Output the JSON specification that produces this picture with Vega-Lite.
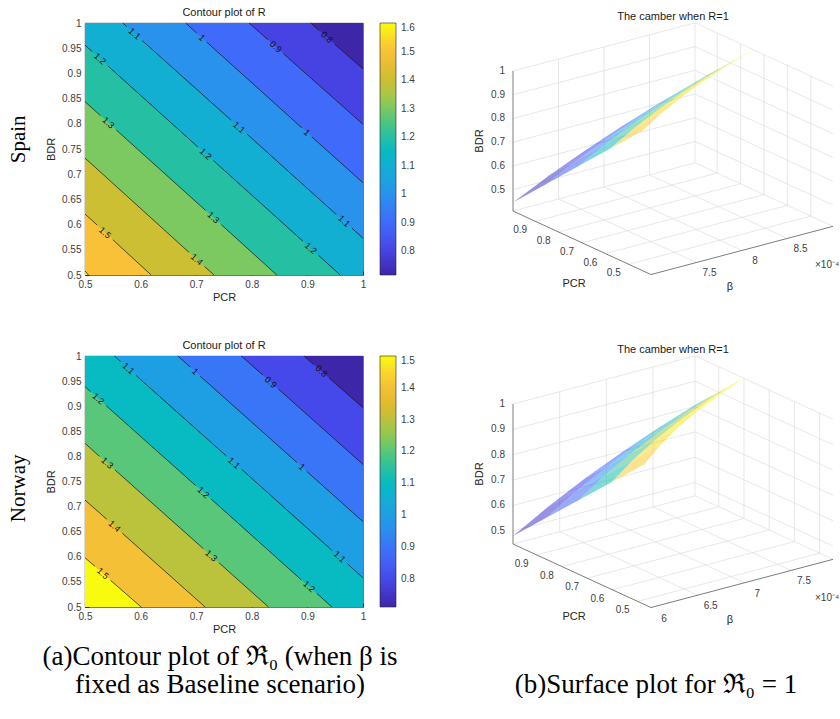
{
  "$schema": "https://vega.github.io/schema/vega-lite/v6.json",
  "padding": {"left": 8, "top": 6, "right": 0, "bottom": 0},
  "background": "white",
  "config": {
    "font": "Liberation Sans",
    "view": {"stroke": null},
    "title": {"fontSize": 11, "fontWeight": "normal", "color": "#1a1a1a"},
    "axis": {"labelFontSize": 10, "labelColor": "#404040", "titleFontSize": 11, "titleFontWeight": "normal", "titleColor": "#262626", "grid": false, "domain": false, "tickColor": "#262626", "tickSize": -4, "labelPadding": 8, "labelFlush": false, "labelOverlap": false},
    "legend": {"labelFontSize": 10, "labelColor": "#404040"}
  },
  "resolve": {"scale": {"color": "independent"}, "legend": {"color": "independent"}},
  "spacing": 5,
  "vconcat": [
    {
      "spacing": 35,
      "resolve": {"scale": {"color": "independent"}, "legend": {"color": "independent"}},
      "vconcat": [
        {
          "title": {"text": "Spain", "orient": "left", "anchor": "middle", "font": "Liberation Serif", "fontSize": 21, "color": "#000000", "offset": 16, "dx": 16},
          "spacing": 55,
          "resolve": {"scale": {"color": "independent"}, "legend": {"color": "independent"}},
          "hconcat": [
            {
              "width": 278, "height": 252,
              "title": {"text": "Contour plot of R", "frame": "group", "anchor": "middle", "offset": 0},
              "view": {"stroke": "#262626", "strokeWidth": 0.8},
              "encoding": {
                "x": {"field": "PCR", "type": "quantitative", "title": "PCR", "scale": {"domain": [0.5, 1], "nice": false, "zero": false}, "axis": {"values": [0.5, 0.6, 0.7, 0.8, 0.9, 1], "format": "~g", "titlePadding": 2}},
                "y": {"field": "BDR", "type": "quantitative", "title": "BDR", "scale": {"domain": [0.5, 1], "nice": false, "zero": false}, "axis": {"values": [0.5, 0.55, 0.6, 0.65, 0.7, 0.75, 0.8, 0.85, 0.9, 0.95, 1], "format": "~g", "titlePadding": 5}}
              },
              "layer": [
                {
                  "data": {"values": [
                    {"g": 0, "R": 1.6, "PCR": 0.5, "BDR": 0.5}, {"g": 0, "R": 1.6, "PCR": 1, "BDR": 0.5},
                    {"g": 1, "R": 1.5, "PCR": 0.5, "BDR": 0.508}, {"g": 1, "R": 1.5, "PCR": 0.506, "BDR": 0.5}, {"g": 1, "R": 1.5, "PCR": 1, "BDR": 0.5},
                    {"g": 2, "R": 1.4, "PCR": 0.5, "BDR": 0.621}, {"g": 2, "R": 1.4, "PCR": 0.619, "BDR": 0.5}, {"g": 2, "R": 1.4, "PCR": 1, "BDR": 0.5},
                    {"g": 3, "R": 1.3, "PCR": 0.5, "BDR": 0.732}, {"g": 3, "R": 1.3, "PCR": 0.732, "BDR": 0.5}, {"g": 3, "R": 1.3, "PCR": 1, "BDR": 0.5},
                    {"g": 4, "R": 1.2, "PCR": 0.5, "BDR": 0.844}, {"g": 4, "R": 1.2, "PCR": 0.845, "BDR": 0.5}, {"g": 4, "R": 1.2, "PCR": 1, "BDR": 0.5},
                    {"g": 5, "R": 1.1, "PCR": 0.5, "BDR": 0.956}, {"g": 5, "R": 1.1, "PCR": 0.959, "BDR": 0.5}, {"g": 5, "R": 1.1, "PCR": 1, "BDR": 0.5},
                    {"g": 6, "R": 1.0, "PCR": 0.568, "BDR": 1}, {"g": 6, "R": 1.0, "PCR": 1, "BDR": 0.573},
                    {"g": 7, "R": 0.9, "PCR": 0.681, "BDR": 1}, {"g": 7, "R": 0.9, "PCR": 1, "BDR": 0.683},
                    {"g": 8, "R": 0.8, "PCR": 0.795, "BDR": 1}, {"g": 8, "R": 0.8, "PCR": 1, "BDR": 0.799},
                    {"g": 9, "R": 0.716, "PCR": 0.906, "BDR": 1}, {"g": 9, "R": 0.716, "PCR": 1, "BDR": 0.909}
                  ]},
                  "mark": {"type": "area", "opacity": 1, "interpolate": "linear"},
                  "encoding": {
                    "y2": {"datum": 1},
                    "detail": {"field": "g", "type": "nominal"},
                    "color": {"field": "R", "type": "quantitative",
                      "scale": {"domain": [0.716, 0.8044, 0.8928, 0.9812, 1.0696, 1.158, 1.2464, 1.3348, 1.4232, 1.5116, 1.6], "range": ["#3e26a8", "#4744e6", "#4268fb", "#2c8cf0", "#18a9dc", "#07bbbf", "#46c684", "#9fc94a", "#dcbb2c", "#fcc23a", "#f9fb0e"], "interpolate": "rgb", "zero": false, "nice": false},
                      "legend": {"type": "gradient", "direction": "vertical", "orient": "right", "offset": 15, "title": null, "gradientLength": 252, "gradientThickness": 16, "values": [0.8, 0.9, 1, 1.1, 1.2, 1.3, 1.4, 1.5, 1.6], "format": "~g", "labelOverlap": false, "labelOffset": 5, "labelBaseline": "middle", "gradientStrokeColor": "#262626", "gradientStrokeWidth": 0.6, "padding": 0}}
                  }
                },
                {
                  "data": {"values": [
                    {"seg": "a1", "PCR": 0.5, "BDR": 0.508}, {"seg": "a1", "PCR": 0.506, "BDR": 0.5},
                    {"seg": "b1", "PCR": 0.5, "BDR": 0.621}, {"seg": "b1", "PCR": 0.522, "BDR": 0.599},
                    {"seg": "b2", "PCR": 0.55, "BDR": 0.57}, {"seg": "b2", "PCR": 0.619, "BDR": 0.5},
                    {"seg": "c1", "PCR": 0.5, "BDR": 0.732}, {"seg": "c1", "PCR": 0.687, "BDR": 0.545},
                    {"seg": "c2", "PCR": 0.715, "BDR": 0.517}, {"seg": "c2", "PCR": 0.732, "BDR": 0.5},
                    {"seg": "d1", "PCR": 0.5, "BDR": 0.844}, {"seg": "d1", "PCR": 0.528, "BDR": 0.816},
                    {"seg": "d2", "PCR": 0.556, "BDR": 0.788}, {"seg": "d2", "PCR": 0.717, "BDR": 0.628},
                    {"seg": "d3", "PCR": 0.745, "BDR": 0.6}, {"seg": "d3", "PCR": 0.845, "BDR": 0.5},
                    {"seg": "e1", "PCR": 0.5, "BDR": 0.956}, {"seg": "e1", "PCR": 0.513, "BDR": 0.943},
                    {"seg": "e2", "PCR": 0.541, "BDR": 0.915}, {"seg": "e2", "PCR": 0.703, "BDR": 0.754},
                    {"seg": "e3", "PCR": 0.731, "BDR": 0.727}, {"seg": "e3", "PCR": 0.892, "BDR": 0.567},
                    {"seg": "e4", "PCR": 0.92, "BDR": 0.539}, {"seg": "e4", "PCR": 0.959, "BDR": 0.5},
                    {"seg": "f1", "PCR": 0.568, "BDR": 1}, {"seg": "f1", "PCR": 0.575, "BDR": 0.993},
                    {"seg": "f2", "PCR": 0.603, "BDR": 0.965}, {"seg": "f2", "PCR": 0.763, "BDR": 0.807},
                    {"seg": "f3", "PCR": 0.791, "BDR": 0.78}, {"seg": "f3", "PCR": 0.952, "BDR": 0.62},
                    {"seg": "f4", "PCR": 0.98, "BDR": 0.593}, {"seg": "f4", "PCR": 1, "BDR": 0.573},
                    {"seg": "h1", "PCR": 0.681, "BDR": 1}, {"seg": "h1", "PCR": 0.701, "BDR": 0.98},
                    {"seg": "h2", "PCR": 0.719, "BDR": 0.962}, {"seg": "h2", "PCR": 0.89, "BDR": 0.792},
                    {"seg": "h3", "PCR": 0.908, "BDR": 0.774}, {"seg": "h3", "PCR": 1, "BDR": 0.683},
                    {"seg": "i1", "PCR": 0.795, "BDR": 1}, {"seg": "i1", "PCR": 0.829, "BDR": 0.967},
                    {"seg": "i2", "PCR": 0.857, "BDR": 0.939}, {"seg": "i2", "PCR": 1, "BDR": 0.799},
                    {"seg": "j1", "PCR": 0.906, "BDR": 1}, {"seg": "j1", "PCR": 0.921, "BDR": 0.985},
                    {"seg": "j2", "PCR": 0.949, "BDR": 0.958}, {"seg": "j2", "PCR": 1, "BDR": 0.909}
                  ]},
                  "mark": {"type": "line", "color": "#111111", "strokeWidth": 0.7},
                  "encoding": {"detail": {"field": "seg", "type": "nominal"}}
                },
                {
                  "data": {"values": [
                    {"lab": "1.5", "PCR": 0.536, "BDR": 0.584}, {"lab": "1.4", "PCR": 0.701, "BDR": 0.531},
                    {"lab": "1.3", "PCR": 0.542, "BDR": 0.802}, {"lab": "1.3", "PCR": 0.731, "BDR": 0.614},
                    {"lab": "1.2", "PCR": 0.527, "BDR": 0.929}, {"lab": "1.2", "PCR": 0.717, "BDR": 0.74}, {"lab": "1.2", "PCR": 0.906, "BDR": 0.553},
                    {"lab": "1.1", "PCR": 0.589, "BDR": 0.979}, {"lab": "1.1", "PCR": 0.777, "BDR": 0.793}, {"lab": "1.1", "PCR": 0.966, "BDR": 0.607},
                    {"lab": "1", "PCR": 0.71, "BDR": 0.971}, {"lab": "1", "PCR": 0.899, "BDR": 0.783},
                    {"lab": "0.9", "PCR": 0.843, "BDR": 0.953}, {"lab": "0.8", "PCR": 0.935, "BDR": 0.972}
                  ]},
                  "mark": {"type": "text", "angle": 42, "fontSize": 9, "color": "#111111", "align": "center", "baseline": "middle"},
                  "encoding": {"text": {"field": "lab", "type": "nominal"}}
                }
              ]
            },
            {
              "width": 364, "height": 281,
              "title": {"text": "The camber when R=1", "frame": "group", "anchor": "middle", "offset": 0, "dx": 20},
              "data": {"values": [
                {"t": "g", "id": "z5", "k": 0, "PCR": 0.995, "beta": 7, "BDR": 0.5}, {"t": "g", "id": "z5", "k": 1, "PCR": 0.995, "beta": 9, "BDR": 0.5}, {"t": "g", "id": "z5", "k": 2, "PCR": 0.405, "beta": 9, "BDR": 0.5},
                {"t": "g", "id": "z6", "k": 0, "PCR": 0.995, "beta": 7, "BDR": 0.6}, {"t": "g", "id": "z6", "k": 1, "PCR": 0.995, "beta": 9, "BDR": 0.6}, {"t": "g", "id": "z6", "k": 2, "PCR": 0.405, "beta": 9, "BDR": 0.6},
                {"t": "g", "id": "z7", "k": 0, "PCR": 0.995, "beta": 7, "BDR": 0.7}, {"t": "g", "id": "z7", "k": 1, "PCR": 0.995, "beta": 9, "BDR": 0.7}, {"t": "g", "id": "z7", "k": 2, "PCR": 0.405, "beta": 9, "BDR": 0.7},
                {"t": "g", "id": "z8", "k": 0, "PCR": 0.995, "beta": 7, "BDR": 0.8}, {"t": "g", "id": "z8", "k": 1, "PCR": 0.995, "beta": 9, "BDR": 0.8}, {"t": "g", "id": "z8", "k": 2, "PCR": 0.405, "beta": 9, "BDR": 0.8},
                {"t": "g", "id": "z9", "k": 0, "PCR": 0.995, "beta": 7, "BDR": 0.9}, {"t": "g", "id": "z9", "k": 1, "PCR": 0.995, "beta": 9, "BDR": 0.9}, {"t": "g", "id": "z9", "k": 2, "PCR": 0.405, "beta": 9, "BDR": 0.9},
                {"t": "g", "id": "z10", "k": 0, "PCR": 0.995, "beta": 7, "BDR": 1}, {"t": "g", "id": "z10", "k": 1, "PCR": 0.995, "beta": 9, "BDR": 1}, {"t": "g", "id": "z10", "k": 2, "PCR": 0.405, "beta": 9, "BDR": 1},
                {"t": "g", "id": "w1", "k": 0, "PCR": 0.995, "beta": 7.5, "BDR": 0.41}, {"t": "g", "id": "w1", "k": 1, "PCR": 0.995, "beta": 7.5, "BDR": 1},
                {"t": "g", "id": "w2", "k": 0, "PCR": 0.995, "beta": 8, "BDR": 0.41}, {"t": "g", "id": "w2", "k": 1, "PCR": 0.995, "beta": 8, "BDR": 1},
                {"t": "g", "id": "w3", "k": 0, "PCR": 0.995, "beta": 8.5, "BDR": 0.41}, {"t": "g", "id": "w3", "k": 1, "PCR": 0.995, "beta": 8.5, "BDR": 1},
                {"t": "g", "id": "w4", "k": 0, "PCR": 0.995, "beta": 9, "BDR": 0.41}, {"t": "g", "id": "w4", "k": 1, "PCR": 0.995, "beta": 9, "BDR": 1},
                {"t": "g", "id": "r1", "k": 0, "PCR": 0.9, "beta": 9, "BDR": 0.41}, {"t": "g", "id": "r1", "k": 1, "PCR": 0.9, "beta": 9, "BDR": 1},
                {"t": "g", "id": "r2", "k": 0, "PCR": 0.8, "beta": 9, "BDR": 0.41}, {"t": "g", "id": "r2", "k": 1, "PCR": 0.8, "beta": 9, "BDR": 1},
                {"t": "g", "id": "r3", "k": 0, "PCR": 0.7, "beta": 9, "BDR": 0.41}, {"t": "g", "id": "r3", "k": 1, "PCR": 0.7, "beta": 9, "BDR": 1},
                {"t": "g", "id": "r4", "k": 0, "PCR": 0.6, "beta": 9, "BDR": 0.41}, {"t": "g", "id": "r4", "k": 1, "PCR": 0.6, "beta": 9, "BDR": 1},
                {"t": "g", "id": "r5", "k": 0, "PCR": 0.5, "beta": 9, "BDR": 0.41}, {"t": "g", "id": "r5", "k": 1, "PCR": 0.5, "beta": 9, "BDR": 1},
                {"t": "g", "id": "f1", "k": 0, "PCR": 0.995, "beta": 7.5, "BDR": 0.41}, {"t": "g", "id": "f1", "k": 1, "PCR": 0.405, "beta": 7.5, "BDR": 0.41},
                {"t": "g", "id": "f2", "k": 0, "PCR": 0.995, "beta": 8, "BDR": 0.41}, {"t": "g", "id": "f2", "k": 1, "PCR": 0.405, "beta": 8, "BDR": 0.41},
                {"t": "g", "id": "f3", "k": 0, "PCR": 0.995, "beta": 8.5, "BDR": 0.41}, {"t": "g", "id": "f3", "k": 1, "PCR": 0.405, "beta": 8.5, "BDR": 0.41},
                {"t": "g", "id": "p1", "k": 0, "PCR": 0.9, "beta": 7, "BDR": 0.41}, {"t": "g", "id": "p1", "k": 1, "PCR": 0.9, "beta": 9, "BDR": 0.41},
                {"t": "g", "id": "p2", "k": 0, "PCR": 0.8, "beta": 7, "BDR": 0.41}, {"t": "g", "id": "p2", "k": 1, "PCR": 0.8, "beta": 9, "BDR": 0.41},
                {"t": "g", "id": "p3", "k": 0, "PCR": 0.7, "beta": 7, "BDR": 0.41}, {"t": "g", "id": "p3", "k": 1, "PCR": 0.7, "beta": 9, "BDR": 0.41},
                {"t": "g", "id": "p4", "k": 0, "PCR": 0.6, "beta": 7, "BDR": 0.41}, {"t": "g", "id": "p4", "k": 1, "PCR": 0.6, "beta": 9, "BDR": 0.41},
                {"t": "g", "id": "p5", "k": 0, "PCR": 0.5, "beta": 7, "BDR": 0.41}, {"t": "g", "id": "p5", "k": 1, "PCR": 0.5, "beta": 9, "BDR": 0.41},
                {"t": "g", "id": "fb", "k": 0, "PCR": 0.995, "beta": 7, "BDR": 0.41}, {"t": "g", "id": "fb", "k": 1, "PCR": 0.995, "beta": 9, "BDR": 0.41}, {"t": "g", "id": "fb", "k": 2, "PCR": 0.405, "beta": 9, "BDR": 0.41},
                {"t": "a", "id": "az", "k": 0, "PCR": 0.995, "beta": 7, "BDR": 0.41}, {"t": "a", "id": "az", "k": 1, "PCR": 0.995, "beta": 7, "BDR": 1},
                {"t": "a", "id": "ap", "k": 0, "PCR": 0.995, "beta": 7, "BDR": 0.41}, {"t": "a", "id": "ap", "k": 1, "PCR": 0.405, "beta": 7, "BDR": 0.41},
                {"t": "a", "id": "ab", "k": 0, "PCR": 0.405, "beta": 7, "BDR": 0.41}, {"t": "a", "id": "ab", "k": 1, "PCR": 0.405, "beta": 9, "BDR": 0.41},
                {"t": "s", "id": "q00", "k": 0, "PCR": 0.441, "beta": 7, "BDR": 1}, {"t": "s", "id": "q00", "k": 1, "PCR": 0.515, "beta": 7.4, "BDR": 1}, {"t": "s", "id": "q00", "k": 2, "PCR": 0.635, "beta": 7.4, "BDR": 0.88}, {"t": "s", "id": "q00", "k": 3, "PCR": 0.579, "beta": 7, "BDR": 0.862},
                {"t": "s", "id": "q01", "k": 0, "PCR": 0.579, "beta": 7, "BDR": 0.862}, {"t": "s", "id": "q01", "k": 1, "PCR": 0.635, "beta": 7.4, "BDR": 0.88}, {"t": "s", "id": "q01", "k": 2, "PCR": 0.755, "beta": 7.4, "BDR": 0.76}, {"t": "s", "id": "q01", "k": 3, "PCR": 0.718, "beta": 7, "BDR": 0.723},
                {"t": "s", "id": "q02", "k": 0, "PCR": 0.718, "beta": 7, "BDR": 0.723}, {"t": "s", "id": "q02", "k": 1, "PCR": 0.755, "beta": 7.4, "BDR": 0.76}, {"t": "s", "id": "q02", "k": 2, "PCR": 0.875, "beta": 7.4, "BDR": 0.64}, {"t": "s", "id": "q02", "k": 3, "PCR": 0.856, "beta": 7, "BDR": 0.585},
                {"t": "s", "id": "q03", "k": 0, "PCR": 0.856, "beta": 7, "BDR": 0.585}, {"t": "s", "id": "q03", "k": 1, "PCR": 0.875, "beta": 7.4, "BDR": 0.64}, {"t": "s", "id": "q03", "k": 2, "PCR": 0.995, "beta": 7.4, "BDR": 0.52}, {"t": "s", "id": "q03", "k": 3, "PCR": 0.995, "beta": 7, "BDR": 0.446},
                {"t": "s", "id": "q10", "k": 0, "PCR": 0.515, "beta": 7.4, "BDR": 1}, {"t": "s", "id": "q10", "k": 1, "PCR": 0.581, "beta": 7.8, "BDR": 1}, {"t": "s", "id": "q10", "k": 2, "PCR": 0.685, "beta": 7.8, "BDR": 0.896}, {"t": "s", "id": "q10", "k": 3, "PCR": 0.635, "beta": 7.4, "BDR": 0.88},
                {"t": "s", "id": "q11", "k": 0, "PCR": 0.635, "beta": 7.4, "BDR": 0.88}, {"t": "s", "id": "q11", "k": 1, "PCR": 0.685, "beta": 7.8, "BDR": 0.896}, {"t": "s", "id": "q11", "k": 2, "PCR": 0.788, "beta": 7.8, "BDR": 0.793}, {"t": "s", "id": "q11", "k": 3, "PCR": 0.755, "beta": 7.4, "BDR": 0.76},
                {"t": "s", "id": "q12", "k": 0, "PCR": 0.755, "beta": 7.4, "BDR": 0.76}, {"t": "s", "id": "q12", "k": 1, "PCR": 0.788, "beta": 7.8, "BDR": 0.793}, {"t": "s", "id": "q12", "k": 2, "PCR": 0.891, "beta": 7.8, "BDR": 0.69}, {"t": "s", "id": "q12", "k": 3, "PCR": 0.875, "beta": 7.4, "BDR": 0.64},
                {"t": "s", "id": "q13", "k": 0, "PCR": 0.875, "beta": 7.4, "BDR": 0.64}, {"t": "s", "id": "q13", "k": 1, "PCR": 0.891, "beta": 7.8, "BDR": 0.69}, {"t": "s", "id": "q13", "k": 2, "PCR": 0.995, "beta": 7.8, "BDR": 0.586}, {"t": "s", "id": "q13", "k": 3, "PCR": 0.995, "beta": 7.4, "BDR": 0.52},
                {"t": "s", "id": "q20", "k": 0, "PCR": 0.581, "beta": 7.8, "BDR": 1}, {"t": "s", "id": "q20", "k": 1, "PCR": 0.641, "beta": 8.2, "BDR": 1}, {"t": "s", "id": "q20", "k": 2, "PCR": 0.73, "beta": 8.2, "BDR": 0.911}, {"t": "s", "id": "q20", "k": 3, "PCR": 0.685, "beta": 7.8, "BDR": 0.896},
                {"t": "s", "id": "q21", "k": 0, "PCR": 0.685, "beta": 7.8, "BDR": 0.896}, {"t": "s", "id": "q21", "k": 1, "PCR": 0.73, "beta": 8.2, "BDR": 0.911}, {"t": "s", "id": "q21", "k": 2, "PCR": 0.818, "beta": 8.2, "BDR": 0.823}, {"t": "s", "id": "q21", "k": 3, "PCR": 0.788, "beta": 7.8, "BDR": 0.793},
                {"t": "s", "id": "q22", "k": 0, "PCR": 0.788, "beta": 7.8, "BDR": 0.793}, {"t": "s", "id": "q22", "k": 1, "PCR": 0.818, "beta": 8.2, "BDR": 0.823}, {"t": "s", "id": "q22", "k": 2, "PCR": 0.907, "beta": 8.2, "BDR": 0.734}, {"t": "s", "id": "q22", "k": 3, "PCR": 0.891, "beta": 7.8, "BDR": 0.69},
                {"t": "s", "id": "q23", "k": 0, "PCR": 0.891, "beta": 7.8, "BDR": 0.69}, {"t": "s", "id": "q23", "k": 1, "PCR": 0.907, "beta": 8.2, "BDR": 0.734}, {"t": "s", "id": "q23", "k": 2, "PCR": 0.995, "beta": 8.2, "BDR": 0.646}, {"t": "s", "id": "q23", "k": 3, "PCR": 0.995, "beta": 7.8, "BDR": 0.586},
                {"t": "s", "id": "q30", "k": 0, "PCR": 0.641, "beta": 8.2, "BDR": 1}, {"t": "s", "id": "q30", "k": 1, "PCR": 0.696, "beta": 8.6, "BDR": 1}, {"t": "s", "id": "q30", "k": 2, "PCR": 0.77, "beta": 8.6, "BDR": 0.926}, {"t": "s", "id": "q30", "k": 3, "PCR": 0.73, "beta": 8.2, "BDR": 0.911},
                {"t": "s", "id": "q31", "k": 0, "PCR": 0.73, "beta": 8.2, "BDR": 0.911}, {"t": "s", "id": "q31", "k": 1, "PCR": 0.77, "beta": 8.6, "BDR": 0.926}, {"t": "s", "id": "q31", "k": 2, "PCR": 0.845, "beta": 8.6, "BDR": 0.851}, {"t": "s", "id": "q31", "k": 3, "PCR": 0.818, "beta": 8.2, "BDR": 0.823},
                {"t": "s", "id": "q32", "k": 0, "PCR": 0.818, "beta": 8.2, "BDR": 0.823}, {"t": "s", "id": "q32", "k": 1, "PCR": 0.845, "beta": 8.6, "BDR": 0.851}, {"t": "s", "id": "q32", "k": 2, "PCR": 0.92, "beta": 8.6, "BDR": 0.776}, {"t": "s", "id": "q32", "k": 3, "PCR": 0.907, "beta": 8.2, "BDR": 0.734},
                {"t": "s", "id": "q33", "k": 0, "PCR": 0.907, "beta": 8.2, "BDR": 0.734}, {"t": "s", "id": "q33", "k": 1, "PCR": 0.92, "beta": 8.6, "BDR": 0.776}, {"t": "s", "id": "q33", "k": 2, "PCR": 0.995, "beta": 8.6, "BDR": 0.701}, {"t": "s", "id": "q33", "k": 3, "PCR": 0.995, "beta": 8.2, "BDR": 0.646},
                {"t": "s", "id": "q40", "k": 0, "PCR": 0.696, "beta": 8.6, "BDR": 1}, {"t": "s", "id": "q40", "k": 1, "PCR": 0.745, "beta": 9, "BDR": 1}, {"t": "s", "id": "q40", "k": 2, "PCR": 0.808, "beta": 9, "BDR": 0.938}, {"t": "s", "id": "q40", "k": 3, "PCR": 0.77, "beta": 8.6, "BDR": 0.926},
                {"t": "s", "id": "q41", "k": 0, "PCR": 0.77, "beta": 8.6, "BDR": 0.926}, {"t": "s", "id": "q41", "k": 1, "PCR": 0.808, "beta": 9, "BDR": 0.938}, {"t": "s", "id": "q41", "k": 2, "PCR": 0.87, "beta": 9, "BDR": 0.875}, {"t": "s", "id": "q41", "k": 3, "PCR": 0.845, "beta": 8.6, "BDR": 0.851},
                {"t": "s", "id": "q42", "k": 0, "PCR": 0.845, "beta": 8.6, "BDR": 0.851}, {"t": "s", "id": "q42", "k": 1, "PCR": 0.87, "beta": 9, "BDR": 0.875}, {"t": "s", "id": "q42", "k": 2, "PCR": 0.933, "beta": 9, "BDR": 0.813}, {"t": "s", "id": "q42", "k": 3, "PCR": 0.92, "beta": 8.6, "BDR": 0.776},
                {"t": "s", "id": "q43", "k": 0, "PCR": 0.92, "beta": 8.6, "BDR": 0.776}, {"t": "s", "id": "q43", "k": 1, "PCR": 0.933, "beta": 9, "BDR": 0.813}, {"t": "s", "id": "q43", "k": 2, "PCR": 0.995, "beta": 9, "BDR": 0.75}, {"t": "s", "id": "q43", "k": 3, "PCR": 0.995, "beta": 8.6, "BDR": 0.701},
                {"t": "lz", "lab": "0.5", "PCR": 0.995, "beta": 7, "BDR": 0.5}, {"t": "lz", "lab": "0.6", "PCR": 0.995, "beta": 7, "BDR": 0.6}, {"t": "lz", "lab": "0.7", "PCR": 0.995, "beta": 7, "BDR": 0.7}, {"t": "lz", "lab": "0.8", "PCR": 0.995, "beta": 7, "BDR": 0.8}, {"t": "lz", "lab": "0.9", "PCR": 0.995, "beta": 7, "BDR": 0.9}, {"t": "lz", "lab": "1", "PCR": 0.995, "beta": 7, "BDR": 1},
                {"t": "lp", "lab": "0.9", "PCR": 0.9, "beta": 7, "BDR": 0.41}, {"t": "lp", "lab": "0.8", "PCR": 0.8, "beta": 7, "BDR": 0.41}, {"t": "lp", "lab": "0.7", "PCR": 0.7, "beta": 7, "BDR": 0.41}, {"t": "lp", "lab": "0.6", "PCR": 0.6, "beta": 7, "BDR": 0.41}, {"t": "lp", "lab": "0.5", "PCR": 0.5, "beta": 7, "BDR": 0.41},
                {"t": "lb", "lab": "7.5", "PCR": 0.405, "beta": 7.5, "BDR": 0.41}, {"t": "lb", "lab": "8", "PCR": 0.405, "beta": 8, "BDR": 0.41}, {"t": "lb", "lab": "8.5", "PCR": 0.405, "beta": 8.5, "BDR": 0.41},
                {"t": "tp", "lab": "PCR", "PCR": 0.7, "beta": 7, "BDR": 0.41},
                {"t": "tb", "lab": "β", "PCR": 0.405, "beta": 8, "BDR": 0.41},
                {"t": "tx", "lab": "×10⁻⁴", "PCR": 0.405, "beta": 9, "BDR": 0.41},
                {"t": "tz", "lab": "BDR", "PCR": 0.995, "beta": 7, "BDR": 0.705}
              ]},
              "transform": [
                {"calculate": "(1-(datum.PCR-0.405)/0.59)*0.9857+(datum.beta-7)/2*1.3", "as": "u"},
                {"calculate": "-(1-(datum.PCR-0.405)/0.59)*0.4536+(datum.beta-7)/2*0.3443+(datum.BDR-0.41)/0.59", "as": "v"},
                {"joinaggregate": [{"op": "mean", "field": "BDR", "as": "zc"}], "groupby": ["id"]}
              ],
              "encoding": {
                "x": {"field": "u", "type": "quantitative", "scale": {"domain": [-0.3, 2.3], "nice": false, "zero": false}, "axis": null},
                "y": {"field": "v", "type": "quantitative", "scale": {"domain": [-0.664, 1.343], "nice": false, "zero": false}, "axis": null}
              },
              "layer": [
                {"transform": [{"filter": "datum.t==='g'"}], "mark": {"type": "line", "color": "#d9d9d9", "strokeWidth": 0.6}, "encoding": {"detail": {"field": "id", "type": "nominal"}, "order": {"field": "k", "type": "quantitative"}}},
                {"transform": [{"filter": "datum.t==='s'"}], "mark": {"type": "line", "filled": true, "fillOpacity": 0.55, "strokeWidth": 0}, "encoding": {"detail": {"field": "id", "type": "nominal"}, "order": {"field": "k", "type": "quantitative"}, "color": {"field": "zc", "type": "quantitative", "scale": {"domain": [0.446, 0.62, 0.68, 0.72, 0.76, 0.8, 0.84, 0.87, 0.9, 0.93, 0.97], "range": ["#3e26a8", "#4744e6", "#4268fb", "#2c8cf0", "#18a9dc", "#07bbbf", "#46c684", "#9fc94a", "#dcbb2c", "#fcc23a", "#f9fb0e"], "interpolate": "rgb", "zero": false, "nice": false}, "legend": null}}},
                {"transform": [{"filter": "datum.t==='a'"}], "mark": {"type": "line", "color": "#5a5a5a", "strokeWidth": 0.8}, "encoding": {"detail": {"field": "id", "type": "nominal"}, "order": {"field": "k", "type": "quantitative"}}},
                {"transform": [{"filter": "datum.t==='lz'"}], "mark": {"type": "text", "align": "right", "baseline": "middle", "dx": -8, "fontSize": 10, "color": "#404040"}, "encoding": {"text": {"field": "lab", "type": "nominal"}}},
                {"transform": [{"filter": "datum.t==='lp'"}], "mark": {"type": "text", "align": "center", "baseline": "middle", "dx": -15, "dy": 9, "fontSize": 10, "color": "#404040"}, "encoding": {"text": {"field": "lab", "type": "nominal"}}},
                {"transform": [{"filter": "datum.t==='lb'"}], "mark": {"type": "text", "align": "center", "baseline": "middle", "dx": 13, "dy": 11, "fontSize": 10, "color": "#404040"}, "encoding": {"text": {"field": "lab", "type": "nominal"}}},
                {"transform": [{"filter": "datum.t==='tp'"}], "mark": {"type": "text", "align": "center", "baseline": "middle", "dx": -8, "dy": 41, "fontSize": 11, "color": "#262626"}, "encoding": {"text": {"field": "lab", "type": "nominal"}}},
                {"transform": [{"filter": "datum.t==='tb'"}], "mark": {"type": "text", "align": "center", "baseline": "middle", "dx": -12, "dy": 37, "fontSize": 11, "color": "#262626"}, "encoding": {"text": {"field": "lab", "type": "nominal"}}},
                {"transform": [{"filter": "datum.t==='tx'"}], "mark": {"type": "text", "align": "left", "baseline": "middle", "dx": -18, "dy": 39, "fontSize": 10, "color": "#404040"}, "encoding": {"text": {"field": "lab", "type": "nominal"}}},
                {"transform": [{"filter": "datum.t==='tz'"}], "mark": {"type": "text", "align": "center", "baseline": "middle", "angle": 270, "dy": -33, "fontSize": 11, "color": "#262626"}, "encoding": {"text": {"field": "lab", "type": "nominal"}}}
              ]
            }
          ]
        },
        {
          "title": {"text": "Norway", "orient": "left", "anchor": "middle", "font": "Liberation Serif", "fontSize": 21, "color": "#000000", "offset": 16},
          "spacing": 55,
          "resolve": {"scale": {"color": "independent"}, "legend": {"color": "independent"}},
          "hconcat": [
            {
              "width": 278, "height": 251,
              "title": {"text": "Contour plot of R", "frame": "group", "anchor": "middle", "offset": 0},
              "view": {"stroke": "#262626", "strokeWidth": 0.8},
              "encoding": {
                "x": {"field": "PCR", "type": "quantitative", "title": "PCR", "scale": {"domain": [0.5, 1], "nice": false, "zero": false}, "axis": {"values": [0.5, 0.6, 0.7, 0.8, 0.9, 1], "format": "~g", "titlePadding": 2}},
                "y": {"field": "BDR", "type": "quantitative", "title": "BDR", "scale": {"domain": [0.5, 1], "nice": false, "zero": false}, "axis": {"values": [0.5, 0.55, 0.6, 0.65, 0.7, 0.75, 0.8, 0.85, 0.9, 0.95, 1], "format": "~g", "titlePadding": 5}}
              },
              "layer": [
                {
                  "data": {"values": [
                    {"g": 0, "R": 1.5, "PCR": 0.5, "BDR": 0.5}, {"g": 0, "R": 1.5, "PCR": 1, "BDR": 0.5},
                    {"g": 1, "R": 1.4, "PCR": 0.5, "BDR": 0.598}, {"g": 1, "R": 1.4, "PCR": 0.601, "BDR": 0.5}, {"g": 1, "R": 1.4, "PCR": 1, "BDR": 0.5},
                    {"g": 2, "R": 1.3, "PCR": 0.5, "BDR": 0.713}, {"g": 2, "R": 1.3, "PCR": 0.716, "BDR": 0.5}, {"g": 2, "R": 1.3, "PCR": 1, "BDR": 0.5},
                    {"g": 3, "R": 1.2, "PCR": 0.5, "BDR": 0.826}, {"g": 3, "R": 1.2, "PCR": 0.83, "BDR": 0.5}, {"g": 3, "R": 1.2, "PCR": 1, "BDR": 0.5},
                    {"g": 4, "R": 1.1, "PCR": 0.5, "BDR": 0.939}, {"g": 4, "R": 1.1, "PCR": 0.944, "BDR": 0.5}, {"g": 4, "R": 1.1, "PCR": 1, "BDR": 0.5},
                    {"g": 5, "R": 1.0, "PCR": 0.553, "BDR": 1}, {"g": 5, "R": 1.0, "PCR": 1, "BDR": 0.558},
                    {"g": 6, "R": 0.9, "PCR": 0.667, "BDR": 1}, {"g": 6, "R": 0.9, "PCR": 1, "BDR": 0.67},
                    {"g": 7, "R": 0.8, "PCR": 0.781, "BDR": 1}, {"g": 7, "R": 0.8, "PCR": 1, "BDR": 0.784},
                    {"g": 8, "R": 0.711, "PCR": 0.894, "BDR": 1}, {"g": 8, "R": 0.711, "PCR": 1, "BDR": 0.897}
                  ]},
                  "mark": {"type": "area", "opacity": 1, "interpolate": "linear"},
                  "encoding": {
                    "y2": {"datum": 1},
                    "detail": {"field": "g", "type": "nominal"},
                    "color": {"field": "R", "type": "quantitative",
                      "scale": {"domain": [0.711, 0.7899, 0.8688, 0.9477, 1.0266, 1.1055, 1.1844, 1.2633, 1.3422, 1.4211, 1.5], "range": ["#3e26a8", "#4744e6", "#4268fb", "#2c8cf0", "#18a9dc", "#07bbbf", "#46c684", "#9fc94a", "#dcbb2c", "#fcc23a", "#f9fb0e"], "interpolate": "rgb", "zero": false, "nice": false},
                      "legend": {"type": "gradient", "direction": "vertical", "orient": "right", "offset": 15, "title": null, "gradientLength": 251, "gradientThickness": 16, "values": [0.8, 0.9, 1, 1.1, 1.2, 1.3, 1.4, 1.5], "format": "~g", "labelOverlap": false, "labelOffset": 5, "labelBaseline": "middle", "gradientStrokeColor": "#262626", "gradientStrokeWidth": 0.6, "padding": 0}}
                  }
                },
                {
                  "data": {"values": [
                    {"seg": "b1", "PCR": 0.5, "BDR": 0.598}, {"seg": "b1", "PCR": 0.518, "BDR": 0.581},
                    {"seg": "b2", "PCR": 0.546, "BDR": 0.553}, {"seg": "b2", "PCR": 0.601, "BDR": 0.5},
                    {"seg": "c1", "PCR": 0.5, "BDR": 0.713}, {"seg": "c1", "PCR": 0.539, "BDR": 0.675},
                    {"seg": "c2", "PCR": 0.567, "BDR": 0.647}, {"seg": "c2", "PCR": 0.716, "BDR": 0.5},
                    {"seg": "d1", "PCR": 0.5, "BDR": 0.826}, {"seg": "d1", "PCR": 0.526, "BDR": 0.8},
                    {"seg": "d2", "PCR": 0.554, "BDR": 0.773}, {"seg": "d2", "PCR": 0.713, "BDR": 0.616},
                    {"seg": "d3", "PCR": 0.741, "BDR": 0.588}, {"seg": "d3", "PCR": 0.83, "BDR": 0.5},
                    {"seg": "e1", "PCR": 0.5, "BDR": 0.939}, {"seg": "e1", "PCR": 0.51, "BDR": 0.929},
                    {"seg": "e2", "PCR": 0.538, "BDR": 0.901}, {"seg": "e2", "PCR": 0.699, "BDR": 0.742},
                    {"seg": "e3", "PCR": 0.727, "BDR": 0.715}, {"seg": "e3", "PCR": 0.889, "BDR": 0.554},
                    {"seg": "e4", "PCR": 0.917, "BDR": 0.527}, {"seg": "e4", "PCR": 0.944, "BDR": 0.5},
                    {"seg": "f1", "PCR": 0.553, "BDR": 1}, {"seg": "f1", "PCR": 0.564, "BDR": 0.989},
                    {"seg": "f2", "PCR": 0.592, "BDR": 0.961}, {"seg": "f2", "PCR": 0.754, "BDR": 0.801},
                    {"seg": "f3", "PCR": 0.782, "BDR": 0.774}, {"seg": "f3", "PCR": 0.944, "BDR": 0.613},
                    {"seg": "f4", "PCR": 0.972, "BDR": 0.586}, {"seg": "f4", "PCR": 1, "BDR": 0.558},
                    {"seg": "h1", "PCR": 0.667, "BDR": 1}, {"seg": "h1", "PCR": 0.689, "BDR": 0.978},
                    {"seg": "h2", "PCR": 0.707, "BDR": 0.96}, {"seg": "h2", "PCR": 0.881, "BDR": 0.788},
                    {"seg": "h3", "PCR": 0.899, "BDR": 0.77}, {"seg": "h3", "PCR": 1, "BDR": 0.67},
                    {"seg": "i1", "PCR": 0.781, "BDR": 1}, {"seg": "i1", "PCR": 0.82, "BDR": 0.962},
                    {"seg": "i2", "PCR": 0.848, "BDR": 0.934}, {"seg": "i2", "PCR": 1, "BDR": 0.784},
                    {"seg": "j1", "PCR": 0.894, "BDR": 1}, {"seg": "j1", "PCR": 0.911, "BDR": 0.983},
                    {"seg": "j2", "PCR": 0.939, "BDR": 0.956}, {"seg": "j2", "PCR": 1, "BDR": 0.897}
                  ]},
                  "mark": {"type": "line", "color": "#111111", "strokeWidth": 0.7},
                  "encoding": {"detail": {"field": "seg", "type": "nominal"}}
                },
                {
                  "data": {"values": [
                    {"lab": "1.5", "PCR": 0.532, "BDR": 0.567}, {"lab": "1.4", "PCR": 0.553, "BDR": 0.661},
                    {"lab": "1.3", "PCR": 0.54, "BDR": 0.787}, {"lab": "1.3", "PCR": 0.727, "BDR": 0.602},
                    {"lab": "1.2", "PCR": 0.524, "BDR": 0.915}, {"lab": "1.2", "PCR": 0.713, "BDR": 0.728}, {"lab": "1.2", "PCR": 0.903, "BDR": 0.541},
                    {"lab": "1.1", "PCR": 0.578, "BDR": 0.975}, {"lab": "1.1", "PCR": 0.768, "BDR": 0.787}, {"lab": "1.1", "PCR": 0.958, "BDR": 0.6},
                    {"lab": "1", "PCR": 0.698, "BDR": 0.969}, {"lab": "1", "PCR": 0.89, "BDR": 0.779},
                    {"lab": "0.9", "PCR": 0.834, "BDR": 0.948}, {"lab": "0.8", "PCR": 0.925, "BDR": 0.97}
                  ]},
                  "mark": {"type": "text", "angle": 42, "fontSize": 9, "color": "#111111", "align": "center", "baseline": "middle"},
                  "encoding": {"text": {"field": "lab", "type": "nominal"}}
                }
              ]
            },
            {
              "width": 364, "height": 281,
              "title": {"text": "The camber when R=1", "frame": "group", "anchor": "middle", "offset": 0, "dx": 20},
              "data": {"values": [
                {"t": "g", "id": "z5", "k": 0, "PCR": 0.994, "beta": 6, "BDR": 0.5}, {"t": "g", "id": "z5", "k": 1, "PCR": 0.994, "beta": 7.95, "BDR": 0.5}, {"t": "g", "id": "z5", "k": 2, "PCR": 0.447, "beta": 7.95, "BDR": 0.5},
                {"t": "g", "id": "z6", "k": 0, "PCR": 0.994, "beta": 6, "BDR": 0.6}, {"t": "g", "id": "z6", "k": 1, "PCR": 0.994, "beta": 7.95, "BDR": 0.6}, {"t": "g", "id": "z6", "k": 2, "PCR": 0.447, "beta": 7.95, "BDR": 0.6},
                {"t": "g", "id": "z7", "k": 0, "PCR": 0.994, "beta": 6, "BDR": 0.7}, {"t": "g", "id": "z7", "k": 1, "PCR": 0.994, "beta": 7.95, "BDR": 0.7}, {"t": "g", "id": "z7", "k": 2, "PCR": 0.447, "beta": 7.95, "BDR": 0.7},
                {"t": "g", "id": "z8", "k": 0, "PCR": 0.994, "beta": 6, "BDR": 0.8}, {"t": "g", "id": "z8", "k": 1, "PCR": 0.994, "beta": 7.95, "BDR": 0.8}, {"t": "g", "id": "z8", "k": 2, "PCR": 0.447, "beta": 7.95, "BDR": 0.8},
                {"t": "g", "id": "z9", "k": 0, "PCR": 0.994, "beta": 6, "BDR": 0.9}, {"t": "g", "id": "z9", "k": 1, "PCR": 0.994, "beta": 7.95, "BDR": 0.9}, {"t": "g", "id": "z9", "k": 2, "PCR": 0.447, "beta": 7.95, "BDR": 0.9},
                {"t": "g", "id": "z10", "k": 0, "PCR": 0.994, "beta": 6, "BDR": 1}, {"t": "g", "id": "z10", "k": 1, "PCR": 0.994, "beta": 7.95, "BDR": 1}, {"t": "g", "id": "z10", "k": 2, "PCR": 0.447, "beta": 7.95, "BDR": 1},
                {"t": "g", "id": "w1", "k": 0, "PCR": 0.994, "beta": 6.5, "BDR": 0.448}, {"t": "g", "id": "w1", "k": 1, "PCR": 0.994, "beta": 6.5, "BDR": 1},
                {"t": "g", "id": "w2", "k": 0, "PCR": 0.994, "beta": 7, "BDR": 0.448}, {"t": "g", "id": "w2", "k": 1, "PCR": 0.994, "beta": 7, "BDR": 1},
                {"t": "g", "id": "w3", "k": 0, "PCR": 0.994, "beta": 7.5, "BDR": 0.448}, {"t": "g", "id": "w3", "k": 1, "PCR": 0.994, "beta": 7.5, "BDR": 1},
                {"t": "g", "id": "w4", "k": 0, "PCR": 0.994, "beta": 7.95, "BDR": 0.448}, {"t": "g", "id": "w4", "k": 1, "PCR": 0.994, "beta": 7.95, "BDR": 1},
                {"t": "g", "id": "r1", "k": 0, "PCR": 0.9, "beta": 7.95, "BDR": 0.448}, {"t": "g", "id": "r1", "k": 1, "PCR": 0.9, "beta": 7.95, "BDR": 1},
                {"t": "g", "id": "r2", "k": 0, "PCR": 0.8, "beta": 7.95, "BDR": 0.448}, {"t": "g", "id": "r2", "k": 1, "PCR": 0.8, "beta": 7.95, "BDR": 1},
                {"t": "g", "id": "r3", "k": 0, "PCR": 0.7, "beta": 7.95, "BDR": 0.448}, {"t": "g", "id": "r3", "k": 1, "PCR": 0.7, "beta": 7.95, "BDR": 1},
                {"t": "g", "id": "r4", "k": 0, "PCR": 0.6, "beta": 7.95, "BDR": 0.448}, {"t": "g", "id": "r4", "k": 1, "PCR": 0.6, "beta": 7.95, "BDR": 1},
                {"t": "g", "id": "r5", "k": 0, "PCR": 0.5, "beta": 7.95, "BDR": 0.448}, {"t": "g", "id": "r5", "k": 1, "PCR": 0.5, "beta": 7.95, "BDR": 1},
                {"t": "g", "id": "f1", "k": 0, "PCR": 0.994, "beta": 6.5, "BDR": 0.448}, {"t": "g", "id": "f1", "k": 1, "PCR": 0.447, "beta": 6.5, "BDR": 0.448},
                {"t": "g", "id": "f2", "k": 0, "PCR": 0.994, "beta": 7, "BDR": 0.448}, {"t": "g", "id": "f2", "k": 1, "PCR": 0.447, "beta": 7, "BDR": 0.448},
                {"t": "g", "id": "f3", "k": 0, "PCR": 0.994, "beta": 7.5, "BDR": 0.448}, {"t": "g", "id": "f3", "k": 1, "PCR": 0.447, "beta": 7.5, "BDR": 0.448},
                {"t": "g", "id": "p1", "k": 0, "PCR": 0.9, "beta": 6, "BDR": 0.448}, {"t": "g", "id": "p1", "k": 1, "PCR": 0.9, "beta": 7.95, "BDR": 0.448},
                {"t": "g", "id": "p2", "k": 0, "PCR": 0.8, "beta": 6, "BDR": 0.448}, {"t": "g", "id": "p2", "k": 1, "PCR": 0.8, "beta": 7.95, "BDR": 0.448},
                {"t": "g", "id": "p3", "k": 0, "PCR": 0.7, "beta": 6, "BDR": 0.448}, {"t": "g", "id": "p3", "k": 1, "PCR": 0.7, "beta": 7.95, "BDR": 0.448},
                {"t": "g", "id": "p4", "k": 0, "PCR": 0.6, "beta": 6, "BDR": 0.448}, {"t": "g", "id": "p4", "k": 1, "PCR": 0.6, "beta": 7.95, "BDR": 0.448},
                {"t": "g", "id": "p5", "k": 0, "PCR": 0.5, "beta": 6, "BDR": 0.448}, {"t": "g", "id": "p5", "k": 1, "PCR": 0.5, "beta": 7.95, "BDR": 0.448},
                {"t": "g", "id": "fb", "k": 0, "PCR": 0.994, "beta": 6, "BDR": 0.448}, {"t": "g", "id": "fb", "k": 1, "PCR": 0.994, "beta": 7.95, "BDR": 0.448}, {"t": "g", "id": "fb", "k": 2, "PCR": 0.447, "beta": 7.95, "BDR": 0.448},
                {"t": "a", "id": "az", "k": 0, "PCR": 0.994, "beta": 6, "BDR": 0.448}, {"t": "a", "id": "az", "k": 1, "PCR": 0.994, "beta": 6, "BDR": 1},
                {"t": "a", "id": "ap", "k": 0, "PCR": 0.994, "beta": 6, "BDR": 0.448}, {"t": "a", "id": "ap", "k": 1, "PCR": 0.447, "beta": 6, "BDR": 0.448},
                {"t": "a", "id": "ab", "k": 0, "PCR": 0.447, "beta": 6, "BDR": 0.448}, {"t": "a", "id": "ab", "k": 1, "PCR": 0.447, "beta": 7.95, "BDR": 0.448},
                {"t": "s", "id": "q00", "k": 0, "PCR": 0.474, "beta": 6, "BDR": 1}, {"t": "s", "id": "q00", "k": 1, "PCR": 0.555, "beta": 6.39, "BDR": 1}, {"t": "s", "id": "q00", "k": 2, "PCR": 0.665, "beta": 6.39, "BDR": 0.89}, {"t": "s", "id": "q00", "k": 3, "PCR": 0.604, "beta": 6, "BDR": 0.87},
                {"t": "s", "id": "q01", "k": 0, "PCR": 0.604, "beta": 6, "BDR": 0.87}, {"t": "s", "id": "q01", "k": 1, "PCR": 0.665, "beta": 6.39, "BDR": 0.89}, {"t": "s", "id": "q01", "k": 2, "PCR": 0.775, "beta": 6.39, "BDR": 0.78}, {"t": "s", "id": "q01", "k": 3, "PCR": 0.734, "beta": 6, "BDR": 0.74},
                {"t": "s", "id": "q02", "k": 0, "PCR": 0.734, "beta": 6, "BDR": 0.74}, {"t": "s", "id": "q02", "k": 1, "PCR": 0.775, "beta": 6.39, "BDR": 0.78}, {"t": "s", "id": "q02", "k": 2, "PCR": 0.884, "beta": 6.39, "BDR": 0.671}, {"t": "s", "id": "q02", "k": 3, "PCR": 0.864, "beta": 6, "BDR": 0.61},
                {"t": "s", "id": "q03", "k": 0, "PCR": 0.864, "beta": 6, "BDR": 0.61}, {"t": "s", "id": "q03", "k": 1, "PCR": 0.884, "beta": 6.39, "BDR": 0.671}, {"t": "s", "id": "q03", "k": 2, "PCR": 0.994, "beta": 6.39, "BDR": 0.561}, {"t": "s", "id": "q03", "k": 3, "PCR": 0.994, "beta": 6, "BDR": 0.48},
                {"t": "s", "id": "q10", "k": 0, "PCR": 0.555, "beta": 6.39, "BDR": 1}, {"t": "s", "id": "q10", "k": 1, "PCR": 0.627, "beta": 6.78, "BDR": 1}, {"t": "s", "id": "q10", "k": 2, "PCR": 0.719, "beta": 6.78, "BDR": 0.908}, {"t": "s", "id": "q10", "k": 3, "PCR": 0.665, "beta": 6.39, "BDR": 0.89},
                {"t": "s", "id": "q11", "k": 0, "PCR": 0.665, "beta": 6.39, "BDR": 0.89}, {"t": "s", "id": "q11", "k": 1, "PCR": 0.719, "beta": 6.78, "BDR": 0.908}, {"t": "s", "id": "q11", "k": 2, "PCR": 0.811, "beta": 6.78, "BDR": 0.816}, {"t": "s", "id": "q11", "k": 3, "PCR": 0.775, "beta": 6.39, "BDR": 0.78},
                {"t": "s", "id": "q12", "k": 0, "PCR": 0.775, "beta": 6.39, "BDR": 0.78}, {"t": "s", "id": "q12", "k": 1, "PCR": 0.811, "beta": 6.78, "BDR": 0.816}, {"t": "s", "id": "q12", "k": 2, "PCR": 0.902, "beta": 6.78, "BDR": 0.725}, {"t": "s", "id": "q12", "k": 3, "PCR": 0.884, "beta": 6.39, "BDR": 0.671},
                {"t": "s", "id": "q13", "k": 0, "PCR": 0.884, "beta": 6.39, "BDR": 0.671}, {"t": "s", "id": "q13", "k": 1, "PCR": 0.902, "beta": 6.78, "BDR": 0.725}, {"t": "s", "id": "q13", "k": 2, "PCR": 0.994, "beta": 6.78, "BDR": 0.633}, {"t": "s", "id": "q13", "k": 3, "PCR": 0.994, "beta": 6.39, "BDR": 0.561},
                {"t": "s", "id": "q20", "k": 0, "PCR": 0.627, "beta": 6.78, "BDR": 1}, {"t": "s", "id": "q20", "k": 1, "PCR": 0.691, "beta": 7.17, "BDR": 1}, {"t": "s", "id": "q20", "k": 2, "PCR": 0.767, "beta": 7.17, "BDR": 0.924}, {"t": "s", "id": "q20", "k": 3, "PCR": 0.719, "beta": 6.78, "BDR": 0.908},
                {"t": "s", "id": "q21", "k": 0, "PCR": 0.719, "beta": 6.78, "BDR": 0.908}, {"t": "s", "id": "q21", "k": 1, "PCR": 0.767, "beta": 7.17, "BDR": 0.924}, {"t": "s", "id": "q21", "k": 2, "PCR": 0.843, "beta": 7.17, "BDR": 0.848}, {"t": "s", "id": "q21", "k": 3, "PCR": 0.811, "beta": 6.78, "BDR": 0.816},
                {"t": "s", "id": "q22", "k": 0, "PCR": 0.811, "beta": 6.78, "BDR": 0.816}, {"t": "s", "id": "q22", "k": 1, "PCR": 0.843, "beta": 7.17, "BDR": 0.848}, {"t": "s", "id": "q22", "k": 2, "PCR": 0.918, "beta": 7.17, "BDR": 0.773}, {"t": "s", "id": "q22", "k": 3, "PCR": 0.902, "beta": 6.78, "BDR": 0.725},
                {"t": "s", "id": "q23", "k": 0, "PCR": 0.902, "beta": 6.78, "BDR": 0.725}, {"t": "s", "id": "q23", "k": 1, "PCR": 0.918, "beta": 7.17, "BDR": 0.773}, {"t": "s", "id": "q23", "k": 2, "PCR": 0.994, "beta": 7.17, "BDR": 0.697}, {"t": "s", "id": "q23", "k": 3, "PCR": 0.994, "beta": 6.78, "BDR": 0.633},
                {"t": "s", "id": "q30", "k": 0, "PCR": 0.691, "beta": 7.17, "BDR": 1}, {"t": "s", "id": "q30", "k": 1, "PCR": 0.748, "beta": 7.56, "BDR": 1}, {"t": "s", "id": "q30", "k": 2, "PCR": 0.81, "beta": 7.56, "BDR": 0.938}, {"t": "s", "id": "q30", "k": 3, "PCR": 0.767, "beta": 7.17, "BDR": 0.924},
                {"t": "s", "id": "q31", "k": 0, "PCR": 0.767, "beta": 7.17, "BDR": 0.924}, {"t": "s", "id": "q31", "k": 1, "PCR": 0.81, "beta": 7.56, "BDR": 0.938}, {"t": "s", "id": "q31", "k": 2, "PCR": 0.871, "beta": 7.56, "BDR": 0.877}, {"t": "s", "id": "q31", "k": 3, "PCR": 0.843, "beta": 7.17, "BDR": 0.848},
                {"t": "s", "id": "q32", "k": 0, "PCR": 0.843, "beta": 7.17, "BDR": 0.848}, {"t": "s", "id": "q32", "k": 1, "PCR": 0.871, "beta": 7.56, "BDR": 0.877}, {"t": "s", "id": "q32", "k": 2, "PCR": 0.933, "beta": 7.56, "BDR": 0.815}, {"t": "s", "id": "q32", "k": 3, "PCR": 0.918, "beta": 7.17, "BDR": 0.773},
                {"t": "s", "id": "q33", "k": 0, "PCR": 0.918, "beta": 7.17, "BDR": 0.773}, {"t": "s", "id": "q33", "k": 1, "PCR": 0.933, "beta": 7.56, "BDR": 0.815}, {"t": "s", "id": "q33", "k": 2, "PCR": 0.994, "beta": 7.56, "BDR": 0.754}, {"t": "s", "id": "q33", "k": 3, "PCR": 0.994, "beta": 7.17, "BDR": 0.697},
                {"t": "s", "id": "q40", "k": 0, "PCR": 0.748, "beta": 7.56, "BDR": 1}, {"t": "s", "id": "q40", "k": 1, "PCR": 0.8, "beta": 7.95, "BDR": 1}, {"t": "s", "id": "q40", "k": 2, "PCR": 0.849, "beta": 7.95, "BDR": 0.952}, {"t": "s", "id": "q40", "k": 3, "PCR": 0.81, "beta": 7.56, "BDR": 0.938},
                {"t": "s", "id": "q41", "k": 0, "PCR": 0.81, "beta": 7.56, "BDR": 0.938}, {"t": "s", "id": "q41", "k": 1, "PCR": 0.849, "beta": 7.95, "BDR": 0.952}, {"t": "s", "id": "q41", "k": 2, "PCR": 0.897, "beta": 7.95, "BDR": 0.903}, {"t": "s", "id": "q41", "k": 3, "PCR": 0.871, "beta": 7.56, "BDR": 0.877},
                {"t": "s", "id": "q42", "k": 0, "PCR": 0.871, "beta": 7.56, "BDR": 0.877}, {"t": "s", "id": "q42", "k": 1, "PCR": 0.897, "beta": 7.95, "BDR": 0.903}, {"t": "s", "id": "q42", "k": 2, "PCR": 0.946, "beta": 7.95, "BDR": 0.855}, {"t": "s", "id": "q42", "k": 3, "PCR": 0.933, "beta": 7.56, "BDR": 0.815},
                {"t": "s", "id": "q43", "k": 0, "PCR": 0.933, "beta": 7.56, "BDR": 0.815}, {"t": "s", "id": "q43", "k": 1, "PCR": 0.946, "beta": 7.95, "BDR": 0.855}, {"t": "s", "id": "q43", "k": 2, "PCR": 0.994, "beta": 7.95, "BDR": 0.806}, {"t": "s", "id": "q43", "k": 3, "PCR": 0.994, "beta": 7.56, "BDR": 0.754},
                {"t": "lz", "lab": "0.5", "PCR": 0.994, "beta": 6, "BDR": 0.5}, {"t": "lz", "lab": "0.6", "PCR": 0.994, "beta": 6, "BDR": 0.6}, {"t": "lz", "lab": "0.7", "PCR": 0.994, "beta": 6, "BDR": 0.7}, {"t": "lz", "lab": "0.8", "PCR": 0.994, "beta": 6, "BDR": 0.8}, {"t": "lz", "lab": "0.9", "PCR": 0.994, "beta": 6, "BDR": 0.9}, {"t": "lz", "lab": "1", "PCR": 0.994, "beta": 6, "BDR": 1},
                {"t": "lp", "lab": "0.9", "PCR": 0.9, "beta": 6, "BDR": 0.448}, {"t": "lp", "lab": "0.8", "PCR": 0.8, "beta": 6, "BDR": 0.448}, {"t": "lp", "lab": "0.7", "PCR": 0.7, "beta": 6, "BDR": 0.448}, {"t": "lp", "lab": "0.6", "PCR": 0.6, "beta": 6, "BDR": 0.448}, {"t": "lp", "lab": "0.5", "PCR": 0.5, "beta": 6, "BDR": 0.448},
                {"t": "lb", "lab": "6", "PCR": 0.447, "beta": 6, "BDR": 0.448}, {"t": "lb", "lab": "6.5", "PCR": 0.447, "beta": 6.5, "BDR": 0.448}, {"t": "lb", "lab": "7", "PCR": 0.447, "beta": 7, "BDR": 0.448}, {"t": "lb", "lab": "7.5", "PCR": 0.447, "beta": 7.5, "BDR": 0.448},
                {"t": "tp", "lab": "PCR", "PCR": 0.7205, "beta": 6, "BDR": 0.448},
                {"t": "tb", "lab": "β", "PCR": 0.447, "beta": 6.975, "BDR": 0.448},
                {"t": "tx", "lab": "×10⁻⁴", "PCR": 0.447, "beta": 7.95, "BDR": 0.448},
                {"t": "tz", "lab": "BDR", "PCR": 0.994, "beta": 6, "BDR": 0.724}
              ]},
              "transform": [
                {"calculate": "(1-(datum.PCR-0.447)/0.547)*0.9857+(datum.beta-6)/1.95*1.3", "as": "u"},
                {"calculate": "-(1-(datum.PCR-0.447)/0.547)*0.4536+(datum.beta-6)/1.95*0.3443+(datum.BDR-0.448)/0.552", "as": "v"},
                {"joinaggregate": [{"op": "mean", "field": "BDR", "as": "zc"}], "groupby": ["id"]}
              ],
              "encoding": {
                "x": {"field": "u", "type": "quantitative", "scale": {"domain": [-0.3, 2.3], "nice": false, "zero": false}, "axis": null},
                "y": {"field": "v", "type": "quantitative", "scale": {"domain": [-0.664, 1.343], "nice": false, "zero": false}, "axis": null}
              },
              "layer": [
                {"transform": [{"filter": "datum.t==='g'"}], "mark": {"type": "line", "color": "#d9d9d9", "strokeWidth": 0.6}, "encoding": {"detail": {"field": "id", "type": "nominal"}, "order": {"field": "k", "type": "quantitative"}}},
                {"transform": [{"filter": "datum.t==='s'"}], "mark": {"type": "line", "filled": true, "fillOpacity": 0.55, "strokeWidth": 0}, "encoding": {"detail": {"field": "id", "type": "nominal"}, "order": {"field": "k", "type": "quantitative"}, "color": {"field": "zc", "type": "quantitative", "scale": {"domain": [0.48, 0.64, 0.7, 0.74, 0.78, 0.81, 0.85, 0.88, 0.91, 0.935, 0.97], "range": ["#3e26a8", "#4744e6", "#4268fb", "#2c8cf0", "#18a9dc", "#07bbbf", "#46c684", "#9fc94a", "#dcbb2c", "#fcc23a", "#f9fb0e"], "interpolate": "rgb", "zero": false, "nice": false}, "legend": null}}},
                {"transform": [{"filter": "datum.t==='a'"}], "mark": {"type": "line", "color": "#5a5a5a", "strokeWidth": 0.8}, "encoding": {"detail": {"field": "id", "type": "nominal"}, "order": {"field": "k", "type": "quantitative"}}},
                {"transform": [{"filter": "datum.t==='lz'"}], "mark": {"type": "text", "align": "right", "baseline": "middle", "dx": -8, "fontSize": 10, "color": "#404040"}, "encoding": {"text": {"field": "lab", "type": "nominal"}}},
                {"transform": [{"filter": "datum.t==='lp'"}], "mark": {"type": "text", "align": "center", "baseline": "middle", "dx": -15, "dy": 9, "fontSize": 10, "color": "#404040"}, "encoding": {"text": {"field": "lab", "type": "nominal"}}},
                {"transform": [{"filter": "datum.t==='lb'"}], "mark": {"type": "text", "align": "center", "baseline": "middle", "dx": 13, "dy": 11, "fontSize": 10, "color": "#404040"}, "encoding": {"text": {"field": "lab", "type": "nominal"}}},
                {"transform": [{"filter": "datum.t==='tp'"}], "mark": {"type": "text", "align": "center", "baseline": "middle", "dx": -8, "dy": 41, "fontSize": 11, "color": "#262626"}, "encoding": {"text": {"field": "lab", "type": "nominal"}}},
                {"transform": [{"filter": "datum.t==='tb'"}], "mark": {"type": "text", "align": "center", "baseline": "middle", "dx": -12, "dy": 37, "fontSize": 11, "color": "#262626"}, "encoding": {"text": {"field": "lab", "type": "nominal"}}},
                {"transform": [{"filter": "datum.t==='tx'"}], "mark": {"type": "text", "align": "left", "baseline": "middle", "dx": -18, "dy": 39, "fontSize": 10, "color": "#404040"}, "encoding": {"text": {"field": "lab", "type": "nominal"}}},
                {"transform": [{"filter": "datum.t==='tz'"}], "mark": {"type": "text", "align": "center", "baseline": "middle", "angle": 270, "dy": -33, "fontSize": 11, "color": "#262626"}, "encoding": {"text": {"field": "lab", "type": "nominal"}}}
              ]
            }
          ]
        }
      ]
    },
    {
      "spacing": 0,
      "hconcat": [
        {
          "width": 270, "height": 30,
          "data": {"values": [{"c": "(a)Contour plot of ℜ₀ (when β is\nfixed as Baseline scenario)"}]},
          "mark": {"type": "text", "lineBreak": "\n", "font": "Liberation Serif", "fontSize": 27, "lineHeight": 28, "color": "#000000", "align": "center", "baseline": "middle"},
          "encoding": {"text": {"field": "c", "type": "nominal"}}
        },
        {
          "width": 380, "height": 30,
          "data": {"values": [{"c": "\n(b)Surface plot for ℜ₀ = 1"}]},
          "mark": {"type": "text", "lineBreak": "\n", "font": "Liberation Serif", "fontSize": 27, "lineHeight": 28, "color": "#000000", "align": "center", "baseline": "middle", "dx": 68},
          "encoding": {"text": {"field": "c", "type": "nominal"}}
        }
      ]
    }
  ]
}
